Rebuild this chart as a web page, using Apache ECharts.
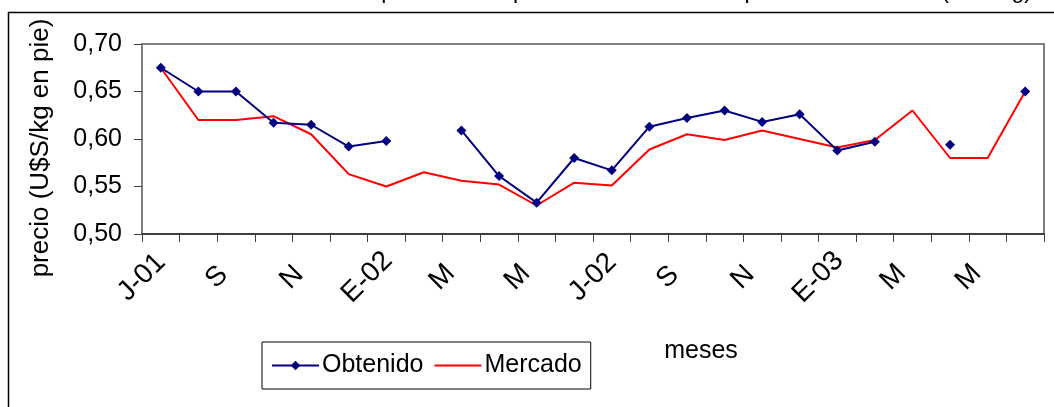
<!DOCTYPE html>
<html>
<head>
<meta charset="utf-8">
<script src="https://cdn.jsdelivr.net/npm/echarts@6/dist/echarts.min.js"></script>
<style>
  html, body { margin: 0; padding: 0; background: #fff; }
  #chart { width: 1054px; height: 407px; }
</style>
</head>
<body>
<div id="chart"></div>
<script>
// Months from July 2001 to June 2003; only every other month gets a label
const months = ['J-01','A','S','O','N','D','E-02','F','M','A','M','J',
                'J-02','A','S','O','N','D','E-03','F','M','A','M','J'];

// Price obtained (null = no sale that month)
const obtenido = [0.675, 0.650, 0.650, 0.617, 0.615, 0.592, 0.598, null,
                  0.609, 0.561, 0.533, 0.580, 0.567, 0.613, 0.622, 0.630,
                  0.618, 0.626, 0.588, 0.597, null, 0.594, null, 0.650];

// Market price
const mercado = [0.675, 0.620, 0.620, 0.624, 0.605, 0.563, 0.550, 0.565,
                 0.556, 0.552, 0.530, 0.554, 0.551, 0.589, 0.605, 0.599,
                 0.609, 0.600, 0.591, 0.599, 0.630, 0.580, 0.580, 0.650];

const yTicks = { min: 0.50, max: 0.70, step: 0.05 };

const FONT = '"Liberation Sans", Arial, sans-serif';

const chart = echarts.init(document.getElementById('chart'), null, { renderer: 'canvas' });

chart.setOption({
  animation: false,
  backgroundColor: '#fff',
  textStyle: { fontFamily: FONT, color: '#000' },
  grid: {
    left: 142, top: 44, right: 10, bottom: 173,
    show: true, borderColor: '#808080', borderWidth: 2, backgroundColor: '#fff'
  },
  legend: {
    left: 262, top: 342,
    orient: 'horizontal',
    itemWidth: 47, itemHeight: 12, itemGap: 10,
    padding: [11, 9],
    borderColor: '#000', borderWidth: 1,
    backgroundColor: '#fff',
    textStyle: { fontFamily: FONT, fontSize: 25, color: '#000', padding: [0, 0, 0, -2] },
    data: [
      { name: 'Obtenido' },
      { name: 'Mercado', itemStyle: { opacity: 0 } }
    ]
  },
  xAxis: {
    type: 'category',
    data: months,
    boundaryGap: true,
    axisLine: { lineStyle: { color: '#404040', width: 2 } },
    axisTick: { show: true, interval: 0, length: 8, lineStyle: { color: '#404040', width: 1 } },
    axisLabel: {
      interval: 1, rotate: 45, margin: 44,
      align: 'center', verticalAlign: 'bottom',
      // shift each label to the left of its month, centred on a common baseline
      padding: [0, 26, 0, 0],
      fontFamily: FONT, fontSize: 28, color: '#000'
    },
    splitLine: { show: false }
  },
  yAxis: {
    type: 'value',
    min: yTicks.min, max: yTicks.max, interval: yTicks.step,
    name: 'precio (U$S/kg en pie)',
    nameLocation: 'middle',
    nameRotate: 90,
    nameGap: 88,
    nameTextStyle: { fontFamily: FONT, fontSize: 26, color: '#000', padding: [0, 18, 0, 0] },
    axisLine: { show: true, lineStyle: { color: '#808080', width: 2 } },
    axisTick: { show: true, length: 8, lineStyle: { color: '#404040', width: 1 } },
    axisLabel: {
      margin: 20, fontFamily: FONT, fontSize: 25, color: '#000',
      formatter: v => v.toFixed(2).replace('.', ',')
    },
    splitLine: { show: false }
  },
  series: [
    {
      name: 'Obtenido',
      type: 'line',
      data: obtenido,
      connectNulls: false,
      showAllSymbol: true,
      symbol: 'diamond',
      symbolSize: 10,
      lineStyle: { color: '#000080', width: 2 },
      itemStyle: { color: '#000080' },
      z: 3
    },
    {
      name: 'Mercado',
      type: 'line',
      data: mercado,
      symbol: 'none',
      lineStyle: { color: '#ff0000', width: 2 },
      itemStyle: { color: '#ff0000' },
      z: 2
    }
  ],
  graphic: [
    {
      type: 'text',
      x: 1032, y: -20,
      style: {
        text: 'Comparación del precio obtenido con el precio de mercado (U$S/kg)',
        fontFamily: FONT, fontSize: 23, fill: '#000',
        align: 'right', verticalAlign: 'top'
      },
      z: 1
    },
    {
      type: 'rect',
      shape: { x: 8.5, y: 12.5, width: 1100, height: 500 },
      style: { fill: null, stroke: '#000', lineWidth: 1.5 },
      z: 5, silent: true
    },
    {
      type: 'text',
      x: 701, y: 351,
      style: {
        text: 'meses',
        fontFamily: FONT, fontSize: 25, fill: '#000',
        align: 'center', verticalAlign: 'middle'
      },
      z: 5
    }
  ]
});
</script>
</body>
</html>
